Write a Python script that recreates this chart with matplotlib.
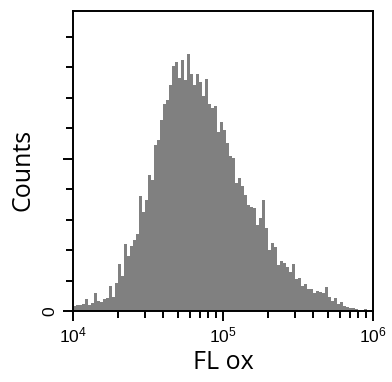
import numpy as np
import matplotlib
matplotlib.use("Agg")
import matplotlib.pyplot as plt
from matplotlib.ticker import FixedLocator, MultipleLocator, FuncFormatter, LogLocator

plt.rcParams['mathtext.fontset'] = 'custom'
plt.rcParams['mathtext.rm'] = 'Liberation Sans'
plt.rcParams['mathtext.it'] = 'Liberation Sans'

# histogram: 100 log-spaced bins from 1e4 to 1e6
log_lo, log_hi = 4.0, 6.0
counts = [
    16, 20, 20, 23, 39, 20, 26, 59, 33, 30,
    39, 43, 82, 46, 92, 154, 115, 220, 180, 213,
    233, 252, 377, 325, 364, 446, 430, 544, 561, 626,
    679, 692, 741, 803, 816, 764, 823, 757, 843, 777,
    741, 777, 751, 705, 761, 679, 666, 672, 587, 620,
    593, 551, 508, 502, 420, 436, 410, 380, 348, 341,
    338, 282, 305, 364, 272, 200, 223, 210, 151, 164,
    157, 144, 128, 154, 105, 108, 82, 89, 72, 72,
    59, 66, 62, 59, 79, 46, 33, 43, 23, 30,
    16, 13, 10, 10, 7, 3, 3, 7, 3, 3,
]
edges = np.logspace(log_lo, log_hi, len(counts) + 1)

fig = plt.figure(figsize=(3.92, 3.82), dpi=100)
ax = fig.add_axes([73 / 392, 1 - 311 / 382, 300 / 392, 300 / 382])

ax.stairs(counts, edges, fill=True, color='#808080', linewidth=0)

ax.set_xscale('log')
ax.set_xlim(1e4, 1e6)
ax.set_ylim(0, 984)

ax.xaxis.set_major_locator(LogLocator(base=10, numticks=5))
ax.xaxis.set_minor_locator(LogLocator(base=10, subs=np.arange(2, 10), numticks=12))
ax.xaxis.set_major_formatter(FuncFormatter(lambda v, p: r'$10^{%d}$' % round(np.log10(v))))
ax.xaxis.set_minor_formatter(FuncFormatter(lambda v, p: ''))

ax.yaxis.set_major_locator(FixedLocator([0, 500]))
ax.yaxis.set_minor_locator(MultipleLocator(100))
ax.yaxis.set_major_formatter(FuncFormatter(lambda v, p: '0' if v == 0 else ''))

for s in ax.spines.values():
    s.set_linewidth(1.4)

ax.tick_params(which='major', length=7.5, width=1.4, labelsize=12.5, pad=4)
ax.tick_params(which='minor', length=5, width=1.4)
for lbl in ax.get_yticklabels():
    lbl.set_rotation(90)
    lbl.set_va('center')
    lbl.set_fontfamily('Liberation Sans')

ax.set_xlabel('FL ox', fontsize=18, family='Open Sans', labelpad=2)
ax.set_ylabel('Counts', fontsize=18, family='Open Sans')
ax.yaxis.set_label_coords(-0.125, 0.47)

fig.savefig('out.png', dpi=100)
